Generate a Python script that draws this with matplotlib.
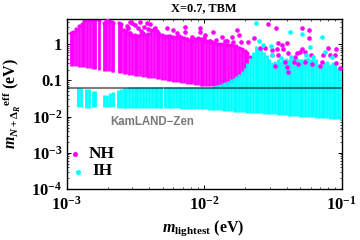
import numpy as np
import matplotlib
matplotlib.use('Agg')
import matplotlib.pyplot as plt
from matplotlib.ticker import LogLocator, NullFormatter, FixedLocator, FixedFormatter

# all values are log10 of the quantity on the axis
nh_x = [-2.97, -2.95, -2.93, -2.91, -2.89, -2.87, -2.85, -2.83, -2.81, -2.79, -2.765,
        -2.725, -2.71, -2.69, -2.67, -2.66,
        -2.62, -2.605, -2.585,
        -2.565, -2.545, -2.525, -2.505, -2.485, -2.465, -2.445, -2.425, -2.405, -2.385,
        -2.365, -2.345, -2.325, -2.305, -2.285, -2.265, -2.245, -2.225, -2.205, -2.185,
        -2.165, -2.145, -2.125, -2.105, -2.085, -2.065, -2.045, -2.025, -2.005, -1.985,
        -1.965, -1.945, -1.925, -1.905, -1.885, -1.865, -1.845, -1.825, -1.805, -1.785,
        -1.765, -1.745, -1.725, -1.705, -1.685, -1.665]
nh_top = [.31, .34, .42, .50, .56, .64, .67, .67, .67, .67, .67,
          .60, .65, .67, .62, .60,
          .60, .56, .40,
          .36, .30, .25, .25, .22, .25, .30, .25, .28, .40,
          .42, .36, .25, .25, .22, .22, .22, .20, .20, .22,
          .20, .18, .15, .12, .10, .14, .17, .14, .12, .10,
          .08, .06, .04, .02, .02, .0, -.02, -.02, -.02, -.04,
          -.06, -.10, -.14, -.18, -.25, -.35]
nh_low = [-.59, -.60, -.61, -.62, -.63, -.64, -.65, -.66, -.67, -.68, -.70,
          -.73, -.74, -.75, -.76, -.77,
          -.79, -.80, -.81,
          -.83, -.84, -.85, -.865, -.875, -.89, -.90, -.91, -.92, -.935,
          -.945, -.96, -.97, -.98, -.99, -1.005, -1.015, -1.03, -1.04, -1.05,
          -1.06, -1.075, -1.085, -1.10, -1.11, -1.12, -1.13, -1.145, -1.15, -1.155,
          -1.16, -1.165, -1.165, -1.165, -1.165, -1.165, -1.16, -1.14, -1.11, -1.07,
          -1.01, -.93, -.84, -.72, -.55, -.35]

nh_dots_x = [-2.553, -2.524, -2.466, -2.415, -2.538, -2.48, -2.27, -2.225, -2.284, -2.196, -2.705,
             -2.50, -2.436, -2.393, -2.356, -2.538, -2.335, -2.56, -2.46, -2.41,
             -2.138, -2.138, -2.03, -2.03, -1.933, -1.993, -1.869, -1.796, -1.76, -1.745, -1.68, -1.636, -1.789, -1.731,
             -2.09, -2.0, -1.96, -1.91, -1.85, -1.83,
             -1.535, -1.476, -1.287, -1.236, -1.236, -1.462, -1.396, -1.433, -1.556, -1.505, -1.425, -1.469, -1.389,
             -1.287, -1.324, -1.265, -1.222, -1.098, -1.04, -1.084, -1.047, -1.142, -1.135, -1.505, -1.462, -1.593,
             -1.338, -1.302,
             -1.41, -1.396, -1.389, -1.345, -1.316, -1.215, -1.156, -1.04, -1.01, -1.265, -1.484]
nh_dots_y = [.45, .59, .62, .59, .31, .45, .45, .395, .20, .31, .67,
             .53, .48, .56, .45, .62, .31, .50, .38, .42,
             .48, .34, .45, .34, .34, .26, .20, .20, .395, .26, .06, .17, .06, .06,
             .20, .18, .10, .12, .08, .10,
             .56, .45, .45, .395, .17, .04, .04, -.02, -.10, -.157, -.13, -.13, -.24,
             -.13, -.24, -.21, -.296, -.10, -.13, -.296, -.296, -.49, -.296, -.296, -.296, -.10,
             -.35, -.21,
             -.49, -.627, -.765, -.49, -.544, -.544, -.6, -.52, -.65, -.49, -.6]

ih_x = [-2.915, -2.895, -2.86, -2.84, -2.81, -2.795, -2.725, -2.705, -2.685, -2.665,
        -2.625, -2.605, -2.585, -2.565, -2.545, -2.525, -2.505, -2.485, -2.465, -2.445, -2.425,
        -2.40, -2.38, -2.36, -2.34, -2.32, -2.31,
        -2.285, -2.265, -2.245, -2.225, -2.205, -2.185, -2.165, -2.145, -2.125, -2.105,
        -2.085, -2.065, -2.045, -2.025, -2.005, -1.985, -1.965, -1.945, -1.925, -1.905,
        -1.885, -1.865, -1.845, -1.825, -1.805, -1.785, -1.765, -1.745, -1.725, -1.705,
        -1.685, -1.665, -1.645, -1.625, -1.605, -1.585, -1.565, -1.545, -1.525, -1.505,
        -1.485, -1.465, -1.445, -1.425, -1.405, -1.385, -1.365, -1.345, -1.325, -1.305,
        -1.285, -1.265, -1.245, -1.225, -1.205, -1.185, -1.165, -1.145, -1.125, -1.105,
        -1.085, -1.065, -1.045, -1.025, -1.005, -.995]
ih_top = [-1.21, -1.21, -1.23, -1.23, -1.29, -1.29, -1.39, -1.39, -1.36, -1.33,
          -1.27, -1.24, -1.22, -1.21, -1.19, -1.19, -1.19, -1.19, -1.19, -1.19, -1.19,
          -1.19, -1.19, -1.19, -1.19, -1.19, -1.19,
          -1.18, -1.18, -1.18, -1.18, -1.18, -1.18, -1.18, -1.18, -1.18, -1.18,
          -1.18, -1.18, -1.18, -1.18, -1.18, -1.18, -1.18, -1.17, -1.15, -1.12,
          -1.09, -1.07, -1.05, -1.02, -.97, -.92, -.87, -.82, -.75, -.65,
          -.52, -.37, -.22, -.05, -.10, -.12, -.22, -.30, -.40, -.48,
          -.45, -.42, -.45, -.40, -.38, -.42, -.38, -.35, -.38, -.42,
          -.40, -.38, -.35, -.42, -.40, -.42, -.55, -.60, -.50, -.45,
          -.55, -.50, -.55, -.65, -.70, -.70]
ih_low = [-1.73, -1.73, -1.75, -1.75, -1.72, -1.72, -1.74, -1.74, -1.74, -1.74,
          -1.75, -1.75, -1.75, -1.75, -1.75, -1.75, -1.75, -1.76, -1.76, -1.76, -1.76,
          -1.76, -1.76, -1.77, -1.77, -1.77, -1.77,
          -1.77, -1.77, -1.77, -1.77, -1.77, -1.77, -1.78, -1.78, -1.78, -1.78,
          -1.78, -1.78, -1.79, -1.79, -1.80, -1.80, -1.81, -1.81, -1.82, -1.83,
          -1.83, -1.84, -1.84, -1.85, -1.85, -1.86, -1.86, -1.87, -1.87, -1.88,
          -1.89, -1.89, -1.90, -1.90, -1.91, -1.91, -1.92, -1.92, -1.93, -1.94,
          -1.94, -1.95, -1.95, -1.96, -1.96, -1.97, -1.98, -1.98, -1.99, -2.00,
          -2.00, -2.01, -2.01, -2.02, -2.02, -2.03, -2.04, -2.04, -2.05, -2.05,
          -2.06, -2.06, -2.07, -2.07, -2.08, -2.08]

ih_dots_x = [-1.622, -1.374, -1.287, -1.142, -1.229, -1.513, -1.571, -1.6, -1.123, -1.069, -1.505, -1.44, -1.367, -1.258, -1.207]
ih_dots_y = [.59, .34, .285, .20, -.07, -.05, -.02, .09, -.21, -.35, -.296, -.38, -.35, -.296, -.35]

kamland_limit = -1.2
x_ticks = [1e-3, 1e-2, 1e-1]
x_labels = [r'$\mathbf{10^{-3}}$', r'$\mathbf{10^{-2}}$', r'$\mathbf{10^{-1}}$']
y_ticks = [1e-4, 1e-3, 1e-2, 0.1, 1]
y_labels = [r'$\mathbf{10^{-4}}$', r'$\mathbf{10^{-3}}$', r'$\mathbf{10^{-2}}$', '0.1', '1']

plt.rcParams['font.family'] = 'Liberation Serif'
plt.rcParams['font.weight'] = 'bold'
plt.rcParams['mathtext.fontset'] = 'custom'
plt.rcParams['mathtext.rm'] = 'Liberation Serif:bold'
plt.rcParams['mathtext.bf'] = 'Liberation Serif:bold'
plt.rcParams['mathtext.it'] = 'Liberation Serif:italic:bold'
plt.rcParams['mathtext.bfit'] = 'Liberation Serif:italic:bold'

magenta = '#ff00ff'
cyan = '#00ffff'

fig = plt.figure(figsize=(3.6, 2.4), dpi=100)
ax = fig.add_axes([66.5 / 360, 51 / 240, 275 / 360, 169.5 / 240])

ax.vlines(10.0 ** np.array(nh_x), 10.0 ** np.array(nh_low), 10.0 ** np.array(nh_top),
          color=magenta, lw=2.0, zorder=2)
ax.scatter(10.0 ** np.array(nh_x), 10.0 ** np.array(nh_top), s=9, color=magenta, lw=0, zorder=2)
ax.vlines(10.0 ** np.array(ih_x), 10.0 ** np.array(ih_low), 10.0 ** np.array(ih_top),
          color=cyan, lw=2.0, zorder=3)
ax.scatter(10.0 ** np.array(nh_dots_x), 10.0 ** np.array(nh_dots_y), s=11, color=magenta, lw=0, zorder=4)
ax.scatter(10.0 ** np.array(ih_dots_x), 10.0 ** np.array(ih_dots_y), s=11, color=cyan, lw=0, zorder=5)
ax.axhline(10.0 ** kamland_limit, color='black', alpha=0.5, lw=1.5, zorder=6)

ax.set_xscale('log')
ax.set_yscale('log')
ax.set_xlim(1e-3, 1e-1)
ax.set_ylim(1e-4, 4.84)

ax.xaxis.set_major_locator(FixedLocator(x_ticks))
ax.xaxis.set_major_formatter(FixedFormatter(x_labels))
ax.yaxis.set_major_locator(FixedLocator(y_ticks))
ax.yaxis.set_major_formatter(FixedFormatter(y_labels))
ax.xaxis.set_minor_locator(LogLocator(base=10, subs=(2, 3, 4, 5, 6, 7, 8, 9), numticks=10))
ax.yaxis.set_minor_locator(LogLocator(base=10, subs=(2, 3, 4, 5, 6, 7, 8, 9), numticks=10))
ax.xaxis.set_minor_formatter(NullFormatter())
ax.yaxis.set_minor_formatter(NullFormatter())
ax.tick_params(which='major', direction='in', top=True, right=True, length=3, width=0.7, labelsize=12, pad=3)
ax.tick_params(axis='x', which='major', pad=5)
ax.tick_params(which='minor', direction='in', top=True, right=True, length=1.5, width=0.5)
for s in ax.spines.values():
    s.set_linewidth(1.0)

# legend and annotation
ax.scatter([0.032], [0.205], s=13, color=magenta, lw=0, transform=ax.transAxes, clip_on=False, zorder=7)
ax.scatter([0.042], [0.103], s=13, color=cyan, lw=0, transform=ax.transAxes, clip_on=False, zorder=7)
ax.text(0.082, 0.208, 'NH', transform=ax.transAxes, fontsize=12.5, va='center', ha='left')
ax.text(0.094, 0.104, 'IH', transform=ax.transAxes, fontsize=12.5, va='center', ha='left')
ax.text(0.158, 0.395, 'KamLAND\u2212Zen', transform=ax.transAxes, fontsize=8.3, color='#7a7a7a',
        family='Liberation Sans', weight='bold', va='center', ha='left')

fig.text(204 / 360, 1 - 8 / 240, 'X=0.7, TBM', fontsize=8.9, ha='center', va='center')
fig.text(203 / 360, 1 - 228 / 240, r'$\mathbfit{m}_{\mathbf{lightest}}$ (eV)', fontsize=11.5,
         ha='center', va='center')
fig.text(12 / 360, 1 - 103.5 / 240, r'$\mathbfit{m}_{N+\Delta_R}{}^{\mathbf{eff}}$ (eV)', fontsize=11.5,
         rotation=90, ha='center', va='center')

fig.savefig('out.png', dpi=100)
